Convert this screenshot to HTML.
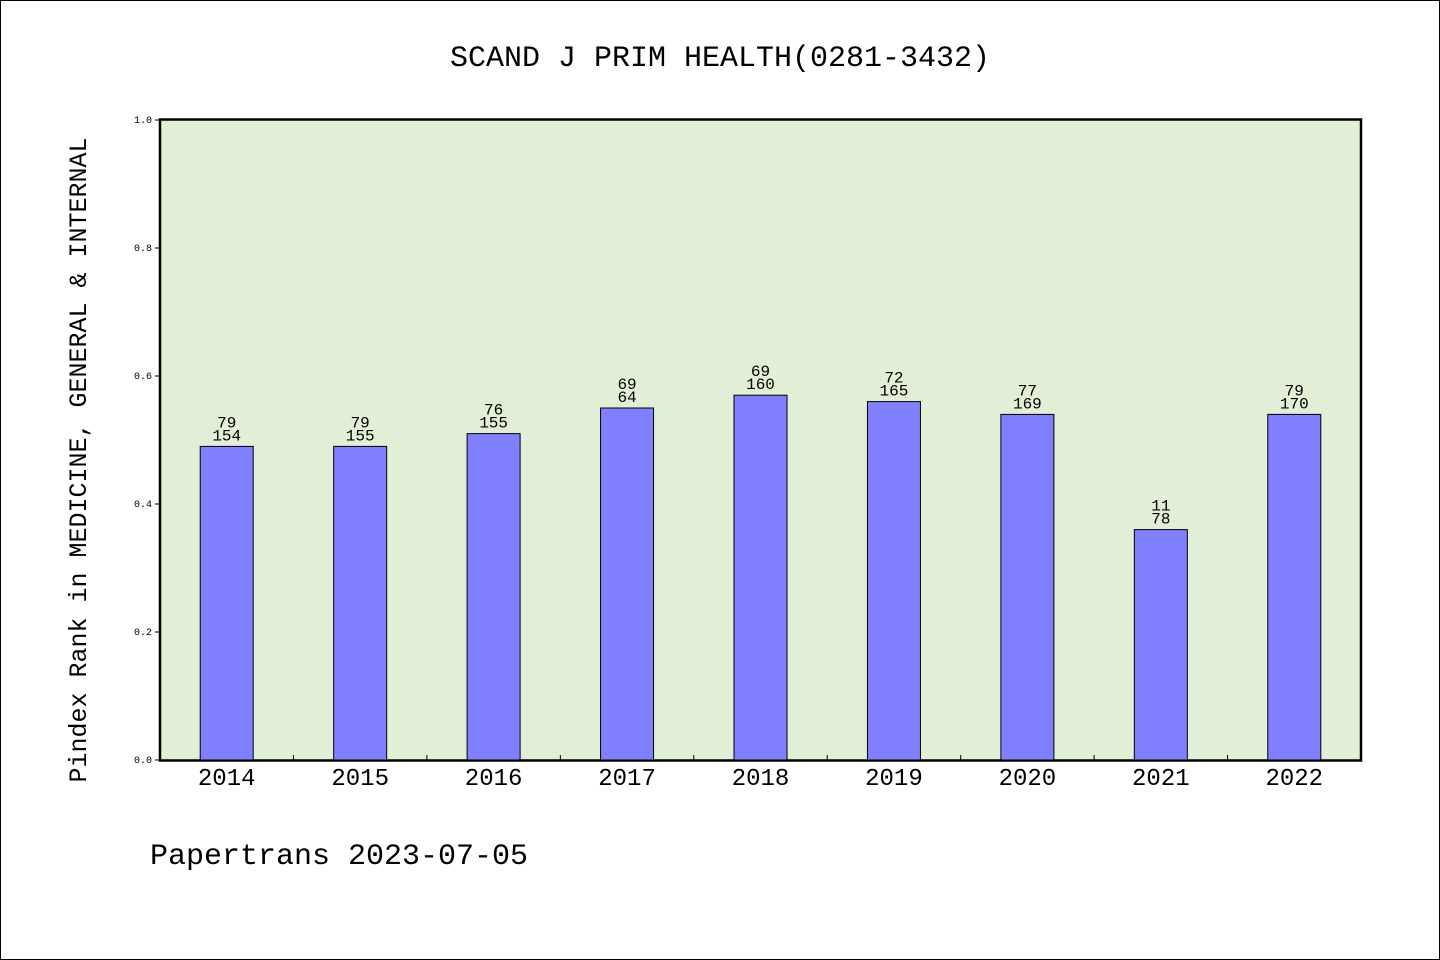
<!DOCTYPE html>
<html><head><meta charset="utf-8"><style>
body{margin:0;background:#fff}
svg{display:block;font-family:"WenQuanYi Zen Hei","Liberation Mono",monospace}
</style></head><body>
<svg id="c" width="1440" height="960" viewBox="0 0 1440 960">
<rect x="0.5" y="0.5" width="1439" height="959" fill="#fff" stroke="#000"/>
<text x="720" y="66" font-size="30" text-anchor="middle">SCAND J PRIM HEALTH(0281-3432)</text>
<rect x="160" y="119.5" width="1201" height="641" fill="#e2efd6" stroke="#000" stroke-width="2.5"/>
<text transform="translate(86,460) rotate(-90)" font-size="25" text-anchor="middle">Pindex Rank in MEDICINE, GENERAL &amp; INTERNAL</text>
<text x="150" y="864" font-size="30">Papertrans 2023-07-05</text>
<g id="g"></g>
</svg>
<script>
const categories=["2014","2015","2016","2017","2018","2019","2020","2021","2022"];
const values=[0.49,0.49,0.51,0.55,0.57,0.56,0.54,0.36,0.54];
const topLabels=["79","79","76","69","69","72","77","11","79"];
const bottomLabels=["154","155","155","64","160","165","169","78","170"];
const yTicks=[0,0.2,0.4,0.6,0.8,1.0];
const tickText=["0.0","0.2","0.4","0.6","0.8","1.0"];
const NS="http://www.w3.org/2000/svg";
const g=document.getElementById('g');
const x0=160,x1=1361,yb=760,yt=120;
const band=(x1-x0)/categories.length;
const y=v=>yb-(yb-yt)*v;
const xc=i=>x0+band*(i+0.5);
function mk(t,a){const e=document.createElementNS(NS,t);for(const k in a)e.setAttribute(k,a[k]);g.appendChild(e);return e;}
yTicks.forEach((v,i)=>{
 const l=mk('line',{x1:x0-5,x2:x0,y1:y(v),y2:y(v),stroke:'#000'});
 
 
 const t=mk('text',{x:x0-8,y:y(v)+3,'font-size':10,'text-anchor':'end'});
 t.textContent=tickText[i];
 
 
});
categories.forEach((c,i)=>{
 if(i>0){const l=mk('line',{x1:x0+band*i,x2:x0+band*i,y1:yb,y2:yb-5,stroke:'#000'});
 
 }
 const b=mk('rect',{x:xc(i)-26.5,y:y(values[i]),width:53,height:yb-y(values[i]),fill:'#8080ff',stroke:'#000','stroke-width':1});
 
 
 const t1=mk('text',{x:xc(i),y:y(values[i])-19,'font-size':16,'text-anchor':'middle'});
 t1.textContent=topLabels[i];
 
 
 const t2=mk('text',{x:xc(i),y:y(values[i])-6,'font-size':16,'text-anchor':'middle'});
 t2.textContent=bottomLabels[i];
 
 
 const xl=mk('text',{x:xc(i),y:785,'font-size':24,'text-anchor':'middle'});
 xl.textContent=c;
 
 
});
</script>
</body></html>
